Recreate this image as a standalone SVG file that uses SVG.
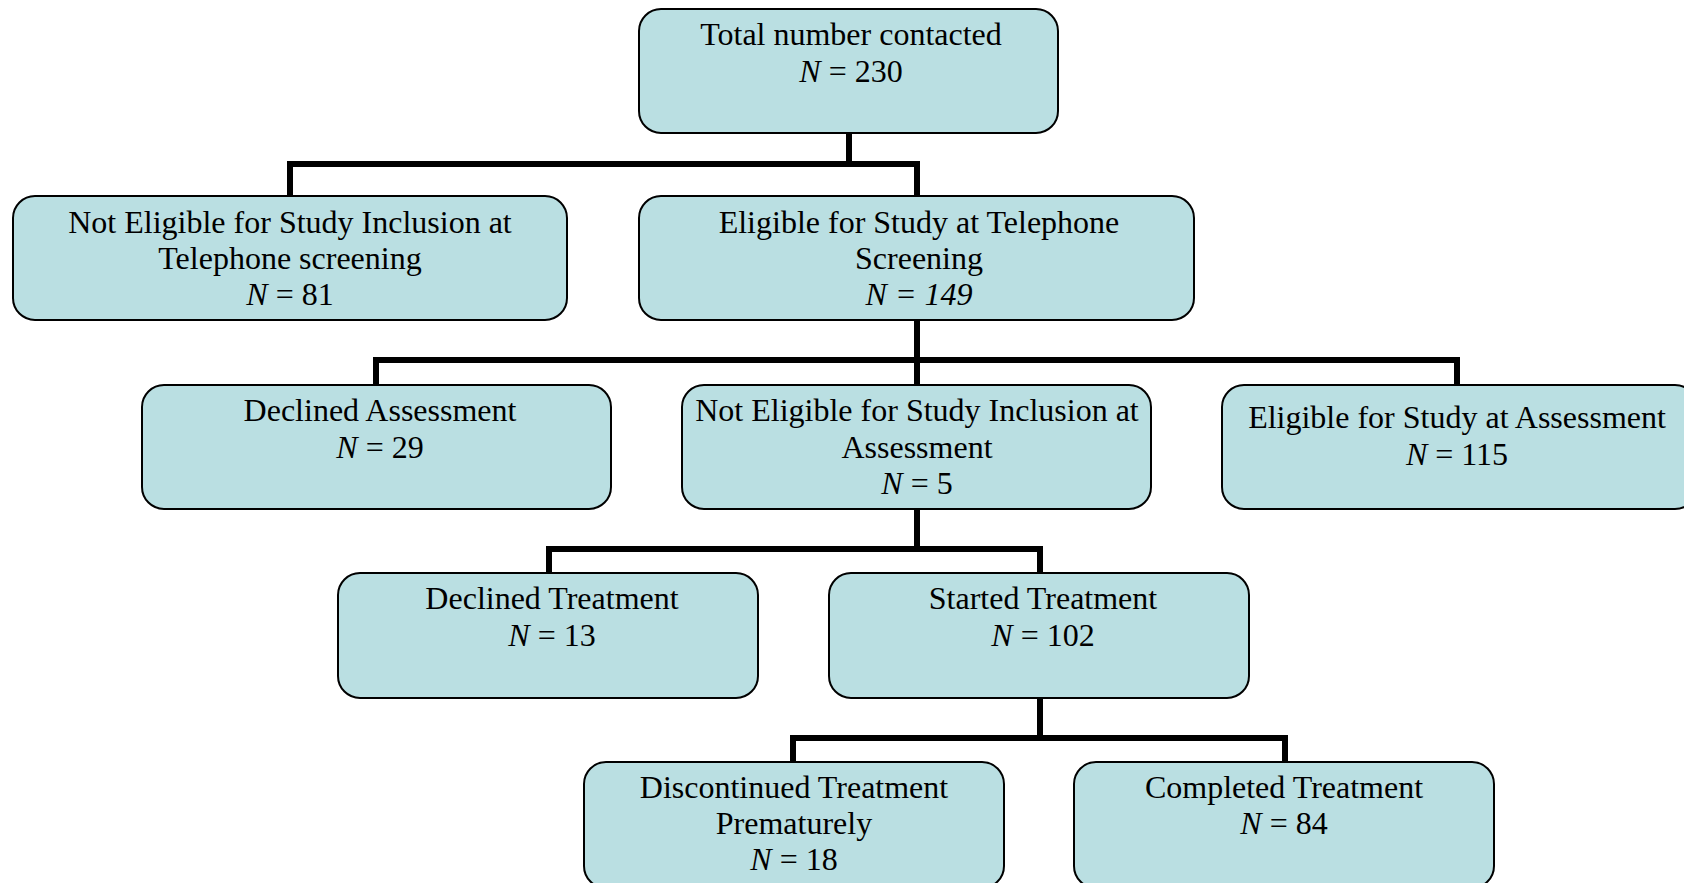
<svg xmlns="http://www.w3.org/2000/svg" width="1684" height="883" viewBox="0 0 1684 883">
<style>
.box{fill:#BADFE2;stroke:#000;stroke-width:2}
.t{font-family:"Liberation Serif","Times New Roman",serif;font-size:32px;fill:#000;text-anchor:middle}
.i{font-style:italic}
.c{fill:none;stroke:#000;stroke-width:6;stroke-linejoin:miter;stroke-linecap:square}
</style>
<rect width="1684" height="883" fill="#fff"/>
<g id="connectors">
<path class="c" d="M849,133 V164 M290,196 V164 H917 V196"/>
<path class="c" d="M917,320 V385 M376,385 V360 H1457 V385"/>
<path class="c" d="M917,509 V549 M549,573 V549 H1040 V573"/>
<path class="c" d="M1040,698 V738 M793,762 V738 H1285 V762"/>
</g>
<g id="total">
<rect class="box" x="639" y="9" width="419" height="124" rx="22"/>
<text class="t" x="851" y="45">Total number contacted</text>
<text class="t" x="851" y="82"><tspan class="i">N</tspan> = 230</text>
</g>
<g id="not-eligible-tel">
<rect class="box" x="13" y="196" width="554" height="124" rx="22"/>
<text class="t" x="290" y="233">Not Eligible for Study Inclusion at</text>
<text class="t" x="290" y="269">Telephone screening</text>
<text class="t" x="290" y="305"><tspan class="i">N</tspan> = 81</text>
</g>
<g id="eligible-tel">
<rect class="box" x="639" y="196" width="555" height="124" rx="22"/>
<text class="t" x="919" y="233">Eligible for Study at Telephone</text>
<text class="t" x="919" y="269">Screening</text>
<text class="t i" x="919" y="305">N = 149</text>
</g>
<g id="declined-assessment">
<rect class="box" x="142" y="385" width="469" height="124" rx="22"/>
<text class="t" x="380" y="421">Declined Assessment</text>
<text class="t" x="380" y="458"><tspan class="i">N</tspan> = 29</text>
</g>
<g id="not-eligible-assessment">
<rect class="box" x="682" y="385" width="469" height="124" rx="22"/>
<text class="t" x="917" y="421">Not Eligible for Study Inclusion at</text>
<text class="t" x="917" y="458">Assessment</text>
<text class="t" x="917" y="494"><tspan class="i">N</tspan> = 5</text>
</g>
<g id="eligible-assessment">
<rect class="box" x="1222" y="385" width="475" height="124" rx="22"/>
<text class="t" x="1457" y="428">Eligible for Study at Assessment</text>
<text class="t" x="1457" y="465"><tspan class="i">N</tspan> = 115</text>
</g>
<g id="declined-treatment">
<rect class="box" x="338" y="573" width="420" height="125" rx="22"/>
<text class="t" x="552" y="609">Declined Treatment</text>
<text class="t" x="552" y="646"><tspan class="i">N</tspan> = 13</text>
</g>
<g id="started-treatment">
<rect class="box" x="829" y="573" width="420" height="125" rx="22"/>
<text class="t" x="1043" y="609">Started Treatment</text>
<text class="t" x="1043" y="646"><tspan class="i">N</tspan> = 102</text>
</g>
<g id="discontinued">
<rect class="box" x="584" y="762" width="420" height="126" rx="22"/>
<text class="t" x="794" y="798">Discontinued Treatment</text>
<text class="t" x="794" y="834">Prematurely</text>
<text class="t" x="794" y="870"><tspan class="i">N</tspan> = 18</text>
</g>
<g id="completed">
<rect class="box" x="1074" y="762" width="420" height="126" rx="22"/>
<text class="t" x="1284" y="798">Completed Treatment</text>
<text class="t" x="1284" y="834"><tspan class="i">N</tspan> = 84</text>
</g>
</svg>
